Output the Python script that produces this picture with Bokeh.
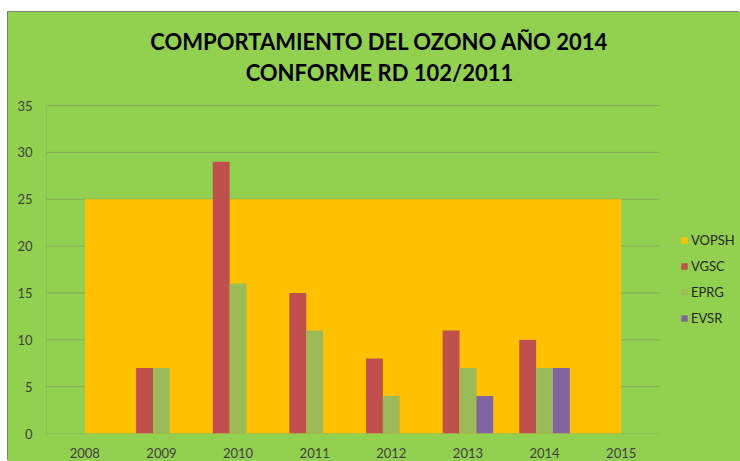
from bokeh.plotting import figure
from bokeh.models import Legend, LegendItem, FixedTicker, Spacer
from bokeh.core.properties import value
from bokeh.layouts import column, row
from bokeh.embed import file_html
from bokeh.resources import INLINE

years = [2008, 2009, 2010, 2011, 2012, 2013, 2014, 2015]
year_labels = ["2008", "2009", "2010", "2011", "2012", "2013", "2014", "2015"]
vopsh = [25, 25, 25, 25, 25, 25, 25, 25]
vgsc = [0, 7, 29, 15, 8, 11, 10, 0]
eprg = [0, 7, 16, 11, 4, 7, 7, 0]
evsr = [0, 0, 0, 0, 0, 4, 7, 0]
y_ticks = [0, 5, 10, 15, 20, 25, 30, 35]
title_lines = ["COMPORTAMIENTO DEL OZONO AÑO 2014", "CONFORME RD 102/2011"]

BG = "#92D050"
FONT = "Lato"
GRID = "#84A85C"
W, H = 732, 449
LEFT, BOTTOM = 38, 28          # borders around the plotting frame (px)
PLOT_W, PLOT_H = 613, 328      # size of the gridded plot area (px)

x0, x1 = years[0] - 0.5, years[-1] + 0.5
y0, y1 = y_ticks[0], y_ticks[-1]
px_x = PLOT_W / (x1 - x0)
px_y = PLOT_H / (y1 - y0)
# frame extends to the right and top edges so title and legend live inside it
x_end = x0 + (W - LEFT) / px_x
y_end = y0 + (H - BOTTOM) / px_y

p = figure(width=W, height=H, output_backend="svg", toolbar_location=None,
           x_range=(x0, x_end), y_range=(y0, y_end),
           background_fill_color=BG, border_fill_color=BG,
           min_border_left=LEFT, min_border_right=0, min_border_top=0,
           min_border_bottom=BOTTOM)
p.styles = {"background-color": BG, "box-shadow": "-1px -1px 0 0 #808080"}
p.outline_line_color = None
p.grid.visible = False

# title (positions in px from the figure's top, converted to data units)
top_px = H - BOTTOM - PLOT_H   # px from figure top to value y1
title_x = x0 + (371 - LEFT) / px_x
title_y = [y1 + (top_px - 29) / px_y, y1 + (top_px - 60) / px_y]
p.text(x=[title_x, title_x], y=title_y, text=title_lines, text_align="center",
       text_baseline="middle", text_font=value(FONT), text_font_size="22px",
       text_font_style="bold", text_color="#000000")

# gridlines limited to the plot area
p.segment(x0=[x0] * len(y_ticks), x1=[x1] * len(y_ticks), y0=y_ticks, y1=y_ticks,
          line_color=GRID, line_width=1)
p.segment(x0=[x0], x1=[x0], y0=[y0], y1=[y1], line_color=GRID, line_width=1)

area = p.varea(x=years, y1=[0] * len(years), y2=vopsh, fill_color="#FFC000")

w = 0.22
xs_vgsc = [y - w for y in years]
xs_eprg = [y for y in years]
xs_evsr = [y + w for y in years]
b1 = p.vbar(x=xs_vgsc, top=vgsc, width=w, fill_color="#C0504D", line_color=None)
b2 = p.vbar(x=xs_eprg, top=eprg, width=w, fill_color="#9BBB59", line_color=None)
b3 = p.vbar(x=xs_evsr, top=evsr, width=w, fill_color="#8064A2", line_color=None)

p.xaxis.ticker = FixedTicker(ticks=years)
p.xaxis.major_label_overrides = {y: l for y, l in zip(years, year_labels)}
p.yaxis.ticker = FixedTicker(ticks=y_ticks)
for ax in (p.xaxis[0], p.yaxis[0]):
    ax.axis_line_color = None
    ax.major_tick_line_color = None
    ax.minor_tick_line_color = None
    ax.major_label_text_font = FONT
    ax.major_label_text_font_size = "13px"
    ax.major_label_text_color = "#404040"
p.xaxis.major_label_standoff = 8
p.yaxis.major_label_standoff = 8

legend = Legend(items=[
    LegendItem(label="VOPSH", renderers=[area]),
    LegendItem(label="VGSC", renderers=[b1]),
    LegendItem(label="EPRG", renderers=[b2]),
    LegendItem(label="EVSR", renderers=[b3]),
], location=(634, 107))
legend.background_fill_alpha = 0
legend.border_line_color = None
legend.margin = 0
legend.padding = 0
legend.glyph_width = 8
legend.glyph_height = 8
legend.label_height = 16
legend.spacing = 10
legend.label_standoff = 3
legend.label_text_font = FONT
legend.label_text_font_size = "13px"
legend.label_text_color = "#262626"
p.add_layout(legend, "center")

layout = row(Spacer(width=8), column(Spacer(height=12), p, spacing=0), spacing=0)
open("out.html", "w").write(file_html(layout, INLINE))
